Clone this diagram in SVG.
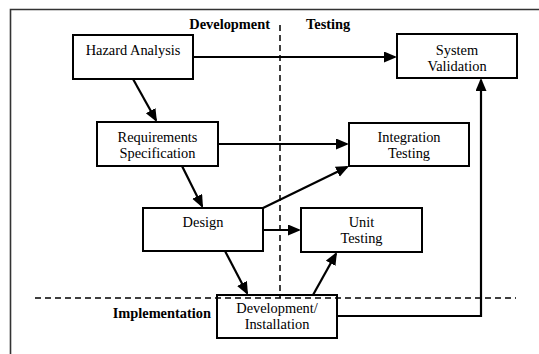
<svg xmlns="http://www.w3.org/2000/svg" width="539" height="354" viewBox="0 0 539 354">
<style>
.box{fill:#fff;stroke:#000;stroke-width:2}
text{font-family:'Liberation Serif','Times New Roman',Times,'DejaVu Serif',serif;font-size:14.4px;fill:#000}
.t{text-anchor:middle}
.b{font-weight:bold}
.c{fill:none;stroke:#000;stroke-width:2.2}
.d{fill:none;stroke:#000;stroke-width:1.5;stroke-dasharray:6 4}
</style>
<defs>
<marker id="ah" markerUnits="userSpaceOnUse" markerWidth="14" markerHeight="12" refX="11" refY="5.5" orient="auto" viewBox="0 0 14 12">
<path d="M0,0 L13,5.5 L0,11 z" fill="#000"/>
</marker>
</defs>
<rect width="539" height="354" fill="#fff"/>
<path d="M10.5,354 V9.5 H539" fill="none" stroke="#333" stroke-width="1.6"/>
<g id="connectors">
<path class="c" d="M193,57 H395" marker-end="url(#ah)"/>
<path class="c" d="M133,79 L156,120.3" marker-end="url(#ah)"/>
<path class="c" d="M218,144 H347" marker-end="url(#ah)"/>
<path class="c" d="M182,166 L202.1,206.2" marker-end="url(#ah)"/>
<path class="c" d="M263,208 L347.2,166.9" marker-end="url(#ah)"/>
<path class="c" d="M263,230 H299" marker-end="url(#ah)"/>
<path class="c" d="M225,251 L247.1,293.2" marker-end="url(#ah)"/>
<path class="c" d="M313,295 L336,253.7" marker-end="url(#ah)"/>
<path class="c" d="M337,316 H481 V80" marker-end="url(#ah)"/>
</g>
<g id="hazard">
<rect class="box" x="73" y="35" width="120" height="44"/>
<text class="t" x="133" y="55">Hazard Analysis</text>
</g>
<g id="requirements">
<rect class="box" x="97" y="122" width="121" height="44"/>
<text class="t" x="157.5" y="142">Requirements</text>
<text class="t" x="157.5" y="158">Specification</text>
</g>
<g id="design">
<rect class="box" x="143" y="208" width="120" height="43"/>
<text class="t" x="203" y="227">Design</text>
</g>
<g id="development">
<rect class="box" x="217" y="295" width="120" height="43"/>
<text class="t" x="277" y="313">Development/</text>
<text class="t" x="277" y="329">Installation</text>
</g>
<g id="unit">
<rect class="box" x="301" y="208" width="121" height="44"/>
<text class="t" x="361.5" y="227">Unit</text>
<text class="t" x="361.5" y="243">Testing</text>
</g>
<g id="integration">
<rect class="box" x="349" y="123" width="120" height="43"/>
<text class="t" x="409" y="142">Integration</text>
<text class="t" x="409" y="158">Testing</text>
</g>
<g id="validation">
<rect class="box" x="397" y="34" width="120" height="44"/>
<text class="t" x="457" y="55">System</text>
<text class="t" x="457" y="71">Validation</text>
</g>
<g id="regions">
<path class="d" d="M280,25 V298"/>
<path class="d" d="M35,298 H516"/>
<text class="b" x="270" y="29" text-anchor="end">Development</text>
<text class="b" x="306" y="29">Testing</text>
<text class="b" x="211" y="318" text-anchor="end">Implementation</text>
</g>
</svg>
